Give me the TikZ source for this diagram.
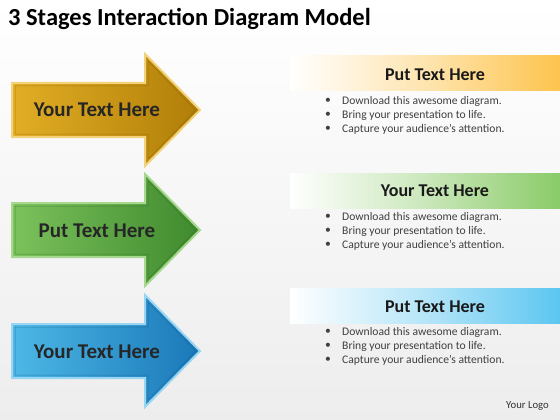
\documentclass[tikz,border=0pt]{standalone}
\usepackage{fontspec}
\setmainfont{Carlito}
\begin{document}
\begin{tikzpicture}[x=1pt,y=-1pt,
  arrowtext/.style={font=\fontsize{21}{24}\selectfont\bfseries,text=black!85},
  bantitle/.style={font=\fontsize{18}{21}\selectfont\bfseries,text=black!90},
  bullettext/.style={font=\fontsize{11.6}{14}\selectfont,text=black!75,anchor=west,inner sep=0pt},
  dotnode/.style={font=\fontsize{11.6}{14}\selectfont,text=black!75,inner sep=0pt}
]
\definecolor{goldD}{HTML}{B07E08}
\definecolor{goldL}{HTML}{E2AE26}
\definecolor{goldE}{HTML}{F2D27A}
\definecolor{greenD}{HTML}{3F8A2E}
\definecolor{greenL}{HTML}{7CC25C}
\definecolor{greenE}{HTML}{A8D890}
\definecolor{blueD}{HTML}{1A78B8}
\definecolor{blueL}{HTML}{4DB8E6}
\definecolor{blueE}{HTML}{9AD6F2}
\definecolor{banO}{HTML}{FDC44E}
\definecolor{banG}{HTML}{8ACB68}
\definecolor{banB}{HTML}{5CC6F0}
\useasboundingbox (0,0) rectangle (560,420);
\shade[top color=white,bottom color=black!7] (0,0) rectangle (560,420);

\node[anchor=west,inner sep=0pt,font=\fontsize{24.5}{28}\selectfont\bfseries] (title) at (8,19) {3 Stages Interaction Diagram Model};

% arrows
\foreach \yc/\cd/\cl/\ce/\nm in {110/goldD/goldL/goldE/a1, 230/greenD/greenL/greenE/a2, 351/blueD/blueL/blueE/a3}{
  \shade[left color=\cl,right color=\cd,draw=\ce,line width=2pt,line join=miter]
    (12,\yc-27) -- (145,\yc-27) -- (145,\yc-56) -- (200,\yc) -- (145,\yc+56) -- (145,\yc+27) -- (12,\yc+27) -- cycle;
  \draw[\cd!80!black,line width=0.5pt,opacity=0.6]
    (15,\yc-24) -- (148,\yc-24) -- (148,\yc-49) -- (196,\yc) -- (148,\yc+49) -- (148,\yc+24) -- (15,\yc+24) -- cycle;
}
\node[arrowtext] (t1) at (97,110) {Your Text Here};
\node[arrowtext] (t2) at (97,231) {Put Text Here};
\node[arrowtext] (t3) at (97,352) {Your Text Here};

% banners
\shade[left color=white,right color=banO,middle color=banO!45] (290,56) rectangle (560,91);
\shade[left color=white,right color=banG,middle color=banG!45] (290,173) rectangle (560,208);
\shade[left color=white,right color=banB,middle color=banB!45] (290,288) rectangle (560,323);
\node[bantitle] (b1) at (435,75) {Put Text Here};
\node[bantitle] (b2) at (435,191) {Your Text Here};
\node[bantitle] (b3) at (435,307) {Put Text Here};

\foreach \y/\nm in {101/p1,217/p2,332/p3}{
  \node[dotnode] (\nm d1) at (328,\y) {•};
  \node[dotnode] (\nm d2) at (328,\y+14) {•};
  \node[dotnode] (\nm d3) at (328,\y+28) {•};
  \node[bullettext] (\nm l1) at (342,\y) {Download this awesome diagram.};
  \node[bullettext] (\nm l2) at (342,\y+14) {Bring your presentation to life.};
  \node[bullettext] (\nm l3) at (342,\y+28) {Capture your audience’s attention.};
}
\node[anchor=east,inner sep=0pt,font=\fontsize{10.7}{13}\selectfont,text=black!80] (logo) at (549,406) {Your Logo};
\end{tikzpicture}
\end{document}
